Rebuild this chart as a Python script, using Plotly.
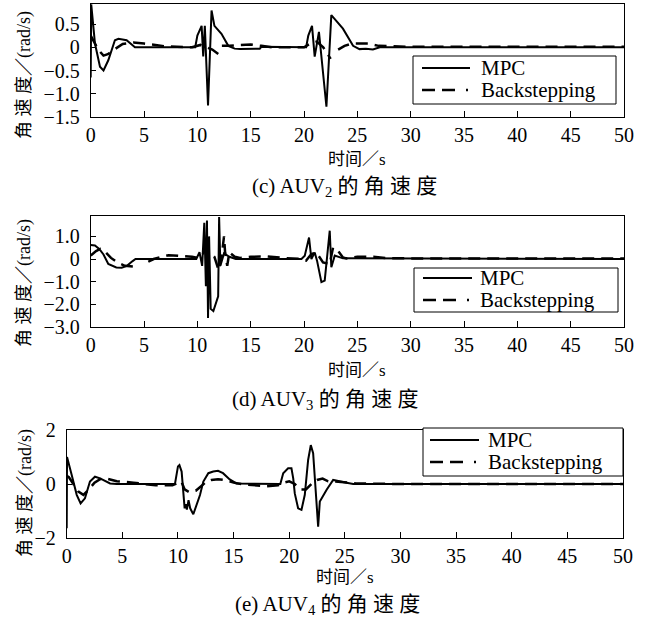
import plotly.graph_objects as go

# ---------------- data ----------------
# (c) AUV2
c_mpc_t = [0, 0.05, 0.4, 0.87, 1.2, 1.65, 2.27, 2.6, 3.37, 4.15, 9.8, 10.0, 10.4, 10.55, 10.7, 11.0, 11.33, 11.6,
           12.26, 12.9, 13.5, 14.0, 15.85, 16.0, 20.2, 20.4, 20.75, 21.0, 21.4, 22.1, 22.56, 23.65, 24.6, 25.2,
           25.8, 26.46, 27.1, 50]
c_mpc_v = [-0.65, 0.92, 0.08, -0.42, -0.5, -0.28, 0.15, 0.18, 0.15, 0.0, 0.0, 0.25, 0.46, -0.2, 0.46, -1.25, 0.79,
           0.46, 0.29, 0.03, -0.03, -0.04, -0.03, 0.01, 0.0, 0.25, 0.46, -0.2, 0.33, -1.28, 0.69, 0.4, 0.03, -0.04,
           -0.03, -0.05, 0.0, 0.0]
c_bs_t = [0, 0.3, 0.7, 1.2, 1.6, 2.2, 3.0, 4.0, 5.0, 7.0, 9.5, 10.3, 10.8, 11.4, 12.0, None, 12.3, 13.0, 14.0, 15.0,
          16.0, 17.0, 20.0, 20.6, 21.2, 21.8, 22.5, None, 23.2, 23.8, 24.5, 26.0, 27.0, 30, 50]
c_bs_v = [0.25, 0.12, -0.05, -0.18, -0.15, -0.05, 0.07, 0.1, 0.08, 0.02, 0.0, 0.05, 0.0, -0.05, -0.15, None, 0.03,
          0.03, 0.05, 0.06, 0.03, 0.0, 0.0, 0.08, 0.12, 0.0, -0.25, None, -0.05, 0.03, 0.08, 0.08, 0.03, 0.01, 0.01]

# (d) AUV3
d_mpc_t = [0, 0.4, 0.8, 1.2, 1.65, 2.4, 2.9, 3.4, 3.9, 4.2, 9.9, 10.2, 10.45, 10.65, 10.8, 10.9, 11.0, 11.1, 11.25,
           11.5, 11.95, 12.04, 12.16, 12.5, 13.0, 13.6, 19.76, 20.07, 20.47, 20.69, 21.0, 21.22, 21.63, 21.94,
           22.41, 22.56, 22.88, 23.65, 50]
d_mpc_v = [0.62, 0.6, 0.45, 0.2, -0.22, -0.37, -0.38, -0.3, -0.1, 0.0, 0.0, 0.3, -0.3, 1.6, -1.2, 1.7, -2.6, 1.0,
           -2.2, -2.3, -1.65, 1.85, -0.3, 0.25, 0.1, 0.0, 0.0, 0.15, 0.95, 0.0, 0.29, -0.07, -1.02, -0.95, 1.25,
           -0.36, 0.15, 0.03, 0.0]
d_bs_t = [0, 0.5, 0.9, 1.4, 1.9, 2.5, 3.2, 4.0, 4.4, None, 5.4, 5.9, 7.3, 8.0, 9.5, 10.0, 10.5, 10.8, 11.2, 11.6,
          12.0, 12.3, 12.5, 12.6, 12.8, 13.0, 13.5, 14, 15, 16.5, 18, 19.76, 20.2, 20.69, 21.16, 21.78, 22.41,
          22.72, 23.19, 23.65, 23.97, 25, 26.5, 28, 50]
d_bs_v = [0.15, 0.35, 0.45, 0.3, 0.05, -0.15, -0.3, -0.33, -0.3, None, -0.12, 0.0, 0.17, 0.15, 0.1, 0.05, 0.2, 0.5,
          0.3, 0.1, -0.5, 0.2, 1.0, 0.3, -0.3, 0.3, 0.1, 0.05, 0.1, 0.12, 0.05, 0.0, -0.07, 0.22, 0.29, -0.15,
          -0.22, 0.51, 0.36, 0.07, 0.03, 0.1, 0.1, 0.03, 0.02]

# (e) AUV4
e_mpc_t = [0, 0.03, 0.45, 0.9, 1.25, 1.64, 2.09, 2.54, 3.0, 3.9, 4.5, 9.73, 10.0, 10.13, 10.33, 10.48, 10.6, 10.7,
           10.8, 10.95, 11.1, 11.38, 11.6, 11.98, 12.28, 12.73, 13.17, 13.6, 14.05, 14.65, 15.25, 19.2, 19.46,
           19.9, 20.2, 20.36, 20.5, 20.8, 21.1, 21.4, 21.7, 21.94, 22.15, 22.45, 22.6, 22.75, 23.35, 23.95, 24.55,
           25.15, 25.75, 50]
e_mpc_v = [-1.64, 1.0, 0.33, -0.4, -0.72, -0.53, 0.09, 0.27, 0.21, 0.02, 0.0, 0.0, 0.65, 0.7, 0.46, -0.28, -0.9,
           -0.75, -0.95, -0.6, -0.9, -1.12, -0.85, -0.41, 0.09, 0.4, 0.46, 0.49, 0.4, 0.17, 0.02, 0.0, 0.4, 0.58,
           0.58, 0.21, -0.35, -0.9, -0.96, -0.4, 0.89, 1.44, 1.14, -0.47, -1.58, -0.65, -0.22, 0.15, 0.11, 0.05,
           0.0, 0.0]
e_bs_t = [0, 0.2, 0.6, 1.05, 1.5, 2.0, 2.5, 3.0, 3.6, 4.5, 6, 8, 9.5, 10.0, 10.3, 10.6, 11.0, 11.6, 12.2, 12.6,
          13.0, 13.6, 14.2, 15.0, 16.0, 17.0, 18.0, 19.0, 19.5, 20.0, 20.5, 21.0, 21.5, 22.0, 22.5, 23.0, 23.5,
          24.0, 25.0, 26.0, 30, 50]
e_bs_v = [0.3, 0.25, 0.0, -0.28, -0.4, -0.2, 0.05, 0.18, 0.2, 0.1, 0.05, -0.05, -0.05, 0.05, 0.1, -0.2, -0.3, -0.25,
          -0.05, 0.1, 0.15, 0.18, 0.15, 0.05, -0.02, -0.05, -0.08, -0.05, 0.05, 0.1, 0.0, -0.2, -0.2, 0.0, 0.15,
          0.2, 0.1, 0.1, 0.05, 0.02, 0.0, 0.0]

x_ticks = [0, 5, 10, 15, 20, 25, 30, 35, 40, 45, 50]
c_yticks = [0.5, 0, -0.5, -1.0, -1.5]
c_ytext = ["0.5", "0", "\u22120.5", "\u22121.0", "\u22121.5"]
d_yticks = [1.0, 0, -1.0, -2.0, -3.0]
d_ytext = ["1.0", "0", "\u22121.0", "\u22122.0", "\u22123.0"]
e_yticks = [2, 0, -2]
e_ytext = ["2", "0", "\u22122"]

captions = ["(c) AUV<sub>2</sub> 的 角 速 度", "(d) AUV<sub>3</sub> 的 角 速 度", "(e) AUV<sub>4</sub> 的 角 速 度"]
series_names = ["MPC", "Backstepping"]
y_title = "角 速 度／(rad/s)"
x_title = "时间／s"

# ---------------- layout ----------------
W, H = 651, 627
FONT = "Liberation Serif, Noto Sans CJK SC, serif"
DASH = "12px,7px"


def px_x(p):
    return p / W


def px_y(p):
    return 1 - p / H


panels = [
    dict(x0=90.7, x1=624, y0=4, y1=117, rng=[-1.5, 0.93], tv=c_yticks, tt=c_ytext,
         mpc=(c_mpc_t, c_mpc_v), bs=(c_bs_t, c_bs_v),
         leg=dict(bx=(413, 616), by=(56, 104), lx=(422, 470), ly=(68, 90), tx=479)),
    dict(x0=90.7, x1=624, y0=216, y1=327, rng=[-3.0, 1.9], tv=d_yticks, tt=d_ytext,
         mpc=(d_mpc_t, d_mpc_v), bs=(d_bs_t, d_bs_v),
         leg=dict(bx=(414, 618), by=(268, 312), lx=(423, 472), ly=(278, 300), tx=478)),
    dict(x0=66.7, x1=623, y0=430, y1=538, rng=[-2, 2], tv=e_yticks, tt=e_ytext,
         mpc=(e_mpc_t, e_mpc_v), bs=(e_bs_t, e_bs_v),
         leg=dict(bx=(423, 623), by=(428, 476), lx=(430, 479), ly=(440, 462), tx=486)),
]

fig = go.Figure()
layout = dict(
    width=W, height=H, margin=dict(l=0, r=0, t=0, b=0, autoexpand=False),
    paper_bgcolor="white", plot_bgcolor="white",
    font=dict(family=FONT, size=19, color="black"),
    showlegend=False,
)
annotations = []
shapes = []

for i, p in enumerate(panels):
    k = "" if i == 0 else str(i + 1)
    fig.add_trace(go.Scatter(x=p["mpc"][0], y=p["mpc"][1], mode="lines", name=series_names[0],
                             line=dict(color="black", width=2), xaxis="x" + k, yaxis="y" + k,
                             connectgaps=False))
    fig.add_trace(go.Scatter(x=p["bs"][0], y=p["bs"][1], mode="lines", name=series_names[1],
                             line=dict(color="black", width=2.5, dash=DASH), xaxis="x" + k, yaxis="y" + k,
                             connectgaps=False))
    layout["xaxis" + k] = dict(
        domain=[px_x(p["x0"]), px_x(p["x1"])], anchor="y" + k, range=[0, 50], automargin=False,
        tickvals=x_ticks, ticktext=[str(v) for v in x_ticks], ticks="inside", ticklen=6,
        tickcolor="black", tickwidth=1, showline=True, linecolor="black", linewidth=1, mirror=True,
        showgrid=False, zeroline=False, tickfont=dict(size=20, family=FONT),
    )
    layout["yaxis" + k] = dict(
        domain=[px_y(p["y1"]), px_y(p["y0"])], anchor="x" + k, range=p["rng"], automargin=False,
        tickvals=p["tv"], ticktext=p["tt"], ticks="inside", ticklen=5, tickcolor="black", tickwidth=1,
        showline=True, linecolor="black", linewidth=1,
        mirror=True, showgrid=False, zeroline=False, tickfont=dict(size=20, family=FONT),
        ticklabelstandoff=6,
    )
    # legend box (drawn in paper space)
    lg = p["leg"]
    shapes.append(dict(type="rect", xref="paper", yref="paper",
                       x0=px_x(lg["bx"][0]), x1=px_x(lg["bx"][1]), y0=px_y(lg["by"][1]), y1=px_y(lg["by"][0]),
                       line=dict(color="black", width=1), fillcolor="white", layer="above"))
    shapes.append(dict(type="line", xref="paper", yref="paper",
                       x0=px_x(lg["lx"][0]), x1=px_x(lg["lx"][1]), y0=px_y(lg["ly"][0]), y1=px_y(lg["ly"][0]),
                       line=dict(color="black", width=2), layer="above"))
    shapes.append(dict(type="line", xref="paper", yref="paper",
                       x0=px_x(lg["lx"][0]), x1=px_x(lg["lx"][1]), y0=px_y(lg["ly"][1]), y1=px_y(lg["ly"][1]),
                       line=dict(color="black", width=2.5, dash="13px,7px,13px,11px,2px"), layer="above"))
    for j in range(2):
        annotations.append(dict(text=series_names[j], x=px_x(lg["tx"]), y=px_y(lg["ly"][j]),
                                xref="paper", yref="paper", xanchor="left", yanchor="middle",
                                showarrow=False, font=dict(size=21, family=FONT)))

# axis titles and captions
ytitle_pos = [(25, 75), (25, 283), (25, 493)]
xtitle_pos = [(357, 160), (357, 370), (345, 577)]
cap_pos = [(344, 187), (325, 400), (327, 605)]
for i in range(3):
    annotations.append(dict(text=y_title, x=px_x(ytitle_pos[i][0]), y=px_y(ytitle_pos[i][1]),
                            xref="paper", yref="paper", xanchor="center", yanchor="middle",
                            showarrow=False, textangle=-90, font=dict(size=18, family=FONT)))
    annotations.append(dict(text=x_title, x=px_x(xtitle_pos[i][0]), y=px_y(xtitle_pos[i][1]),
                            xref="paper", yref="paper", xanchor="center", yanchor="middle",
                            showarrow=False, font=dict(size=17, family=FONT)))
    annotations.append(dict(text=captions[i], x=px_x(cap_pos[i][0]), y=px_y(cap_pos[i][1]),
                            xref="paper", yref="paper", xanchor="center", yanchor="middle",
                            showarrow=False, font=dict(size=21, family=FONT)))

layout["annotations"] = annotations
layout["shapes"] = shapes
fig.update_layout(**layout)
fig.write_html(
    "out.html",
    config={"displayModeBar": False},
    post_script="document.body.style.margin='0';document.body.style.padding='0';"
                "document.body.style.overflow='hidden';",
)
